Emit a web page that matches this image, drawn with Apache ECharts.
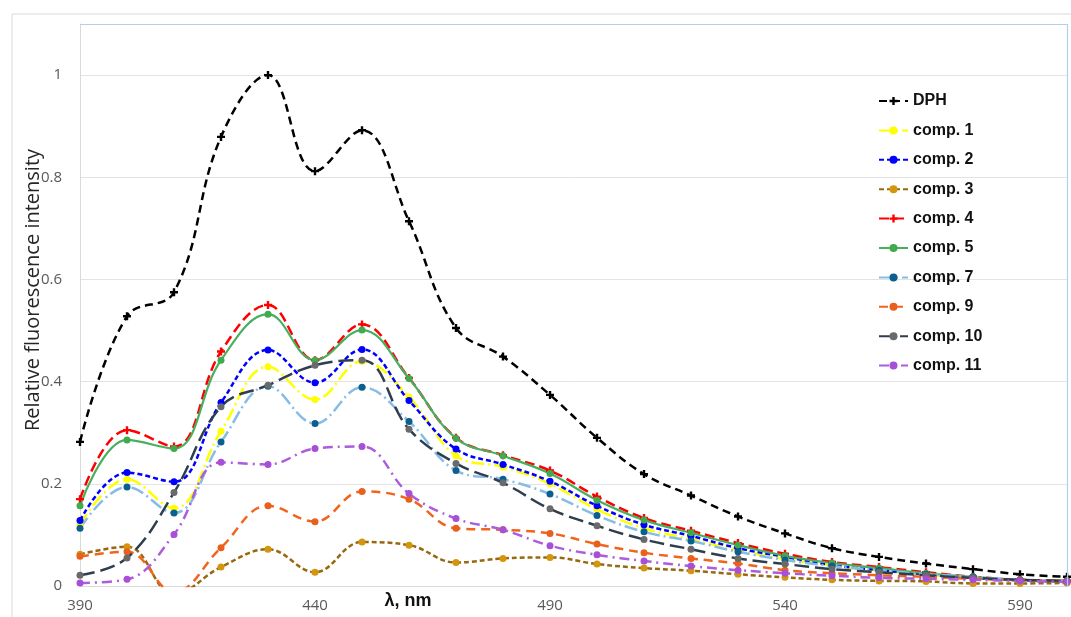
<!DOCTYPE html>
<html>
<head>
<meta charset="utf-8">
<script src="https://cdn.jsdelivr.net/npm/echarts@6/dist/echarts.min.js"></script>
<style>html,body{margin:0;padding:0;background:#fff}#c{width:1071px;height:617px}</style>
</head>
<body>
<div id="c"></div>
<script>
// wavelengths (nm)
const wavelengths = [390,400,410,420,430,440,450,460,470,480,490,500,510,520,530,540,550,560,570,580,590,600];
const xTickLabels = ['390','440','490','540','590'];
const yTickLabels = ['0','0.2','0.4','0.6','0.8','1'];

const DPH    = [0.282,0.528,0.575,0.879,1.000,0.812,0.892,0.714,0.505,0.449,0.374,0.290,0.219,0.177,0.136,0.103,0.074,0.057,0.044,0.033,0.023,0.018];
const comp1  = [0.120,0.209,0.152,0.303,0.429,0.365,0.440,0.370,0.255,0.233,0.200,0.150,0.113,0.092,0.070,0.053,0.040,0.030,0.022,0.016,0.011,0.010];
const comp2  = [0.128,0.222,0.204,0.359,0.462,0.398,0.463,0.363,0.268,0.238,0.205,0.157,0.120,0.098,0.074,0.057,0.041,0.031,0.023,0.016,0.011,0.009];
const comp3  = [0.062,0.077,-0.016,0.037,0.072,0.027,0.086,0.080,0.046,0.054,0.056,0.043,0.035,0.030,0.023,0.017,0.012,0.010,0.009,0.005,0.005,0.006];
const comp4  = [0.170,0.305,0.273,0.459,0.550,0.442,0.512,0.407,0.290,0.256,0.226,0.175,0.133,0.108,0.084,0.063,0.047,0.037,0.027,0.018,0.012,0.010];
const comp5  = [0.157,0.286,0.269,0.442,0.532,0.442,0.501,0.406,0.289,0.255,0.220,0.168,0.129,0.104,0.080,0.059,0.045,0.035,0.025,0.018,0.012,0.010];
const comp7  = [0.113,0.194,0.143,0.282,0.391,0.318,0.389,0.322,0.226,0.209,0.180,0.138,0.106,0.088,0.067,0.051,0.039,0.031,0.023,0.018,0.012,0.010];
const comp9  = [0.058,0.067,-0.012,0.075,0.157,0.126,0.185,0.170,0.113,0.110,0.103,0.082,0.065,0.054,0.044,0.031,0.025,0.021,0.018,0.014,0.012,0.010];
const comp10 = [0.021,0.055,0.183,0.351,0.393,0.432,0.442,0.307,0.240,0.202,0.151,0.118,0.091,0.072,0.054,0.043,0.033,0.027,0.021,0.016,0.012,0.010];
const comp11 = [0.006,0.013,0.101,0.242,0.238,0.269,0.273,0.181,0.132,0.110,0.079,0.061,0.049,0.039,0.031,0.025,0.020,0.016,0.014,0.012,0.010,0.008];

const plusPath = 'path://M3.5,0H6.5V3.5H10V6.5H6.5V10H3.5V6.5H0V3.5H3.5Z';

function mk(name, data, lineColor, markColor, dash, symbol, size, width) {
  return {
    name: name, type: 'line', data: data, smooth: 0.4,
    symbol: symbol || 'circle', symbolSize: size || 7, showSymbol: true,
    lineStyle: { color: lineColor, width: width || 2.5, type: dash },
    itemStyle: { color: markColor, borderWidth: 0 },
    emphasis: { disabled: true }, clip: true
  };
}

const chart = echarts.init(document.getElementById('c'), null, { renderer: 'canvas' });
chart.setOption({
  animation: false,
  backgroundColor: '#fff',
  grid: { left: 80, right: 4, top: 24, bottom: 31, show: false },
  xAxis: {
    type: 'category', data: wavelengths, boundaryGap: false,
    axisLine: { show: true, lineStyle: { color: '#D9D9D9', width: 1 } },
    axisTick: { show: false },
    axisLabel: {
      interval: 4, margin: 12, color: '#595959', fontSize: 15, fontFamily: 'Open Sans',
      formatter: function (v) { return xTickLabels.indexOf(String(v)) >= 0 ? String(v) : ''; }
    },
    splitLine: { show: false }
  },
  yAxis: {
    type: 'value', min: 0, max: 1.1, interval: 0.2,
    axisLine: { show: true, lineStyle: { color: '#D9D9D9', width: 1 } },
    axisTick: { show: false },
    axisLabel: {
      margin: 18, color: '#595959', fontSize: 15, fontFamily: 'Open Sans',
      formatter: function (v) { const i = Math.round(v / 0.2); return (Math.abs(v - i * 0.2) < 1e-6 && i < yTickLabels.length) ? yTickLabels[i] : ''; }
    },
    splitLine: { show: true, lineStyle: { color: '#E3E3E3', width: 1 } }
  },
  legend: {
    orient: 'vertical', left: 873, top: 88, itemWidth: 29, itemHeight: 10, itemGap: 13.4,
    textStyle: { fontSize: 16, fontWeight: 'bold', color: '#111', fontFamily: 'Liberation Sans', lineHeight: 16 },
    data: ['DPH','comp. 1','comp. 2','comp. 3','comp. 4','comp. 5','comp. 7','comp. 9','comp. 10','comp. 11']
  },
  graphic: [
    { type: 'rect', shape: { x: 12, y: 14, width: 1080, height: 640 }, style: { fill: 'none', stroke: '#D9D9D9', lineWidth: 1 }, silent: true, z: -1 },
    { type: 'polyline', shape: { points: [[80, 24.5], [1067.5, 24.5], [1067.5, 586]] }, style: { fill: 'none', stroke: '#B4CFEB', lineWidth: 1.2 }, silent: true, z: 5 },
    { type: 'text', x: 33, y: 290, rotation: Math.PI / 2, style: { text: 'Relative fluorescence intensity', fontSize: 20, fontFamily: 'Open Sans', fill: '#262626', align: 'center', verticalAlign: 'middle' }, silent: true },
    { type: 'text', x: 408, y: 601, style: { text: 'λ, nm', fontSize: 18, fontWeight: 'bold', fontFamily: 'Liberation Sans', fill: '#111', align: 'center', verticalAlign: 'middle' }, silent: true }
  ],
  series: [
    mk('DPH', DPH, '#000000', '#000000', [8, 5], plusPath, 8, 2.5),
    mk('comp. 1', comp1, '#FFFF00', '#FFFF00', [13, 4, 2, 4], 'circle', 7, 2.5),
    mk('comp. 2', comp2, '#0000FF', '#0000FF', [5, 3], 'circle', 7, 2.5),
    mk('comp. 3', comp3, '#98680E', '#D4960C', [5, 3], 'circle', 7, 2.5),
    mk('comp. 4', comp4, '#FF0000', '#FF0000', [10, 5], plusPath, 8, 2.5),
    mk('comp. 5', comp5, '#46B060', '#3FAA4E', 'solid', 'circle', 7, 2.2),
    mk('comp. 7', comp7, '#86BDE6', '#0B5F8F', [13, 4, 2, 4], 'circle', 7, 2.5),
    mk('comp. 9', comp9, '#F0641E', '#E8601C', [9, 6], 'circle', 7, 2.5),
    mk('comp. 10', comp10, '#2F3E4E', '#6A6A6A', [15, 6], 'circle', 7, 2.5),
    mk('comp. 11', comp11, '#AC5CDC', '#A74FD6', [10, 5, 2, 5], 'circle', 7, 2.5)
  ]
});
</script>
</body>
</html>
